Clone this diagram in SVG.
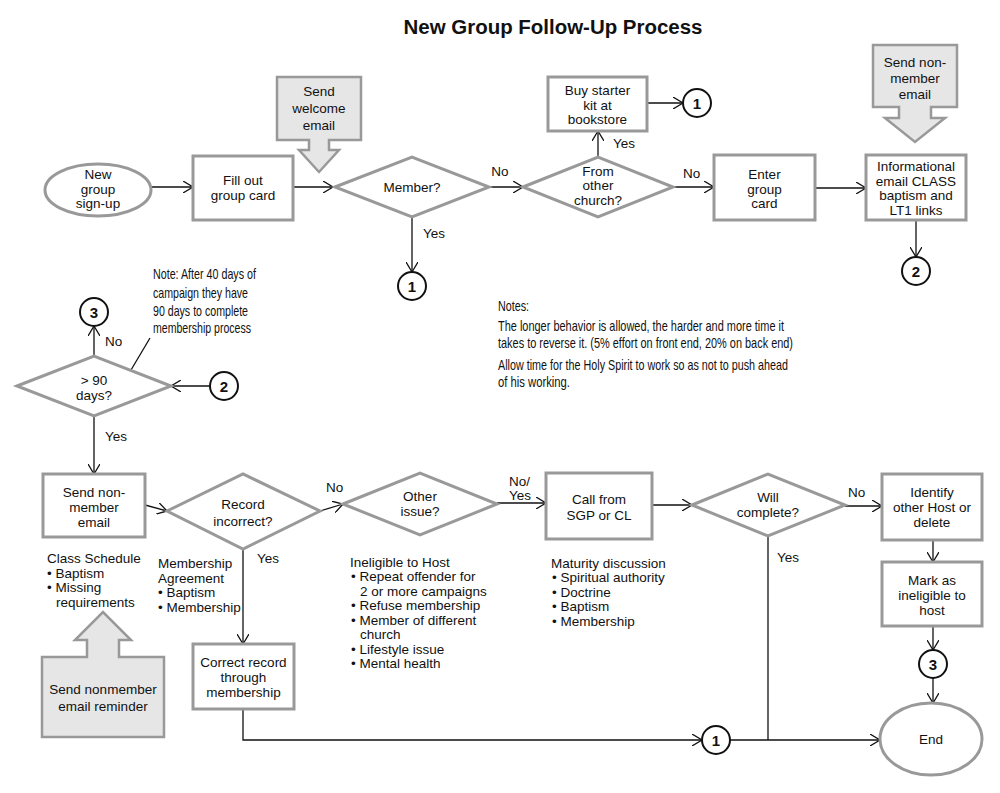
<svg xmlns="http://www.w3.org/2000/svg" width="1000" height="793" viewBox="0 0 1000 793">
<defs>
<style>
text{font-family:"Liberation Sans",Arial,sans-serif;font-size:13.5px;fill:#111}
.c{text-anchor:middle}
.title{font-size:20px;font-weight:bold;text-anchor:middle}
.box{fill:#fff;stroke:#999;stroke-width:3}
.blk{fill:#e6e6e7;stroke:#999;stroke-width:2.5;stroke-linejoin:miter}
.con{fill:#fff;stroke:#111;stroke-width:2}
.num{font-size:15px;font-weight:bold;text-anchor:middle}
.ln{fill:none;stroke:#111;stroke-width:1.3}
.note{font-size:15px}
</style>
<marker id="ah" viewBox="0 0 10 12" refX="10" refY="6" markerWidth="10" markerHeight="12" markerUnits="userSpaceOnUse" orient="auto">
<path d="M0,0 L10,6 L0,12" fill="none" stroke="#111" stroke-width="1.3"/>
</marker>
</defs>
<rect width="1000" height="793" fill="#fff"/>
<text class="title" x="553" y="34" textLength="299" lengthAdjust="spacingAndGlyphs">New Group Follow-Up Process</text>

<g id="connectors">
<line class="ln" x1="152" y1="187" x2="193" y2="187" marker-end="url(#ah)"/>
<line class="ln" x1="293" y1="187" x2="333" y2="187" marker-end="url(#ah)"/>
<line class="ln" x1="489" y1="187" x2="523" y2="187" marker-end="url(#ah)"/>
<line class="ln" x1="412" y1="217" x2="412" y2="272" marker-end="url(#ah)"/>
<line class="ln" x1="598" y1="157" x2="598" y2="131" marker-end="url(#ah)"/>
<line class="ln" x1="647" y1="103" x2="683" y2="103" marker-end="url(#ah)"/>
<line class="ln" x1="673" y1="187" x2="714" y2="187" marker-end="url(#ah)"/>
<line class="ln" x1="815" y1="188" x2="866" y2="188" marker-end="url(#ah)"/>
<line class="ln" x1="916" y1="220" x2="916" y2="257" marker-end="url(#ah)"/>
<line class="ln" x1="94" y1="356" x2="94" y2="326" marker-end="url(#ah)"/>
<line class="ln" x1="210" y1="386" x2="171" y2="386" marker-end="url(#ah)"/>
<line class="ln" x1="150" y1="338" x2="131" y2="370"/>
<line class="ln" x1="94" y1="416" x2="94" y2="474" marker-end="url(#ah)"/>
<line class="ln" x1="145" y1="505" x2="167" y2="511" marker-end="url(#ah)"/>
<line class="ln" x1="320" y1="511" x2="343" y2="504" marker-end="url(#ah)"/>
<line class="ln" x1="497" y1="503" x2="546" y2="503" marker-end="url(#ah)"/>
<line class="ln" x1="652" y1="505" x2="692" y2="505" marker-end="url(#ah)"/>
<line class="ln" x1="845" y1="506" x2="882" y2="506" marker-end="url(#ah)"/>
<line class="ln" x1="933" y1="540" x2="933" y2="562" marker-end="url(#ah)"/>
<line class="ln" x1="933" y1="626" x2="933" y2="650" marker-end="url(#ah)"/>
<line class="ln" x1="933" y1="678" x2="933" y2="703" marker-end="url(#ah)"/>
<line class="ln" x1="243" y1="549" x2="243" y2="644" marker-end="url(#ah)"/>
<polyline class="ln" points="243,709 243,740 702,740" marker-end="url(#ah)"/>
<line class="ln" x1="768" y1="536" x2="768" y2="740"/>
<line class="ln" x1="730" y1="740" x2="880" y2="740" marker-end="url(#ah)"/>
<text x="500" y="176" class="c">No</text>
<text x="423" y="238">Yes</text>
<text x="613" y="148">Yes</text>
<text x="683" y="178">No</text>
<text x="105" y="346">No</text>
<text x="105" y="441">Yes</text>
<text x="326" y="492">No</text>
<text x="257" y="563">Yes</text>
<text x="509" y="486">No/</text>
<text x="509" y="500">Yes</text>
<text x="848" y="497">No</text>
<text x="777" y="562">Yes</text>
</g>

<g id="start">
<ellipse class="box" cx="98" cy="190" rx="53" ry="26"/>
<text class="c" x="98" y="179">New</text>
<text class="c" x="98" y="193.5">group</text>
<text class="c" x="98" y="208">sign-up</text>
</g>
<g id="fill-card">
<rect class="box" x="193" y="156" width="100" height="64"/>
<text class="c" x="243" y="185">Fill out</text>
<text class="c" x="243" y="200">group card</text>
</g>
<g id="welcome-email">
<polygon class="blk" points="277,77 361,77 361,140 329,140 329,150 339,150 319,172 299,150 309,150 309,140 277,140"/>
<text class="c" x="319" y="96">Send</text>
<text class="c" x="319" y="113">welcome</text>
<text class="c" x="319" y="130">email</text>
</g>
<g id="member">
<polygon class="box" points="335,187 412,157 489,187 412,217"/>
<text class="c" x="412" y="192">Member?</text>
</g>
<g id="c1-a">
<circle class="con" cx="412" cy="286" r="14"/>
<text class="num" x="412" y="291.5">1</text>
</g>
<g id="other-church">
<polygon class="box" points="523,187 598,157 673,187 598,217"/>
<text class="c" x="598" y="175.5">From</text>
<text class="c" x="598" y="190">other</text>
<text class="c" x="598" y="204.5">church?</text>
</g>
<g id="starter-kit">
<rect class="box" x="548" y="77" width="99" height="54"/>
<text class="c" x="597.5" y="95">Buy starter</text>
<text class="c" x="597.5" y="109.5">kit at</text>
<text class="c" x="597.5" y="124">bookstore</text>
</g>
<g id="c1-b">
<circle class="con" cx="697" cy="103" r="14"/>
<text class="num" x="697" y="108.5">1</text>
</g>
<g id="enter-card">
<rect class="box" x="714" y="155" width="101" height="65"/>
<text class="c" x="764.5" y="179">Enter</text>
<text class="c" x="764.5" y="193.5">group</text>
<text class="c" x="764.5" y="208">card</text>
</g>
<g id="info-email">
<rect class="box" x="866" y="155" width="100" height="65"/>
<text class="c" x="916" y="171">Informational</text>
<text class="c" x="916" y="185.5">email CLASS</text>
<text class="c" x="916" y="200">baptism and</text>
<text class="c" x="916" y="214.5">LT1 links</text>
</g>
<g id="nonmember-email-top">
<polygon class="blk" points="873,45 957,45 957,107 931,107 931,118 945,118 915,142 885,118 899,118 899,107 873,107"/>
<text class="c" x="915" y="67">Send non-</text>
<text class="c" x="915" y="83">member</text>
<text class="c" x="915" y="99">email</text>
</g>
<g id="c2-a">
<circle class="con" cx="916" cy="271" r="14"/>
<text class="num" x="916" y="276.5">2</text>
</g>
<g id="c3-a">
<circle class="con" cx="94" cy="312" r="14"/>
<text class="num" x="94" y="317.5">3</text>
</g>
<g id="days90">
<polygon class="box" points="17,386 94,356 171,386 94,416"/>
<text class="c" x="94" y="385">&gt; 90</text>
<text class="c" x="94" y="400">days?</text>
</g>
<g id="c2-b">
<circle class="con" cx="224" cy="386" r="14"/>
<text class="num" x="224" y="391.5">2</text>
</g>
<g id="note-40days">
<text class="note" x="153" y="279" textLength="103" lengthAdjust="spacingAndGlyphs">Note: After 40 days of</text>
<text class="note" x="153" y="298" textLength="95" lengthAdjust="spacingAndGlyphs">campaign they have</text>
<text class="note" x="153" y="316" textLength="95" lengthAdjust="spacingAndGlyphs">90 days to complete</text>
<text class="note" x="153" y="333" textLength="98" lengthAdjust="spacingAndGlyphs">membership process</text>
</g>
<g id="notes">
<text class="note" x="498" y="311" textLength="31" lengthAdjust="spacingAndGlyphs">Notes:</text>
<text class="note" x="498" y="331" textLength="286" lengthAdjust="spacingAndGlyphs">The longer behavior is allowed, the harder and more time it</text>
<text class="note" x="498" y="348" textLength="295" lengthAdjust="spacingAndGlyphs">takes to reverse it. (5% effort on front end, 20% on back end)</text>
<text class="note" x="498" y="370" textLength="290" lengthAdjust="spacingAndGlyphs">Allow time for the Holy Spirit to work so as not to push ahead</text>
<text class="note" x="498" y="387" textLength="72" lengthAdjust="spacingAndGlyphs">of his working.</text>
</g>
<g id="nonmember-email">
<rect class="box" x="43" y="474" width="102" height="63"/>
<text class="c" x="94" y="497">Send non-</text>
<text class="c" x="94" y="512">member</text>
<text class="c" x="94" y="526.5">email</text>
</g>
<g id="class-schedule">
<text x="47" y="563">Class Schedule</text>
<text x="47" y="577.5">• Baptism</text>
<text x="47" y="592">• Missing</text>
<text x="56" y="606.5">requirements</text>
</g>
<g id="reminder">
<polygon class="blk" points="42,657 87,657 87,640 75,640 103,612 131,640 119,640 119,657 164,657 164,737 42,737"/>
<text class="c" x="103" y="694">Send nonmember</text>
<text class="c" x="103" y="711">email reminder</text>
</g>
<g id="record-incorrect">
<polygon class="box" points="167,511 243,474 320,511 243,549"/>
<text class="c" x="243" y="509">Record</text>
<text class="c" x="243" y="526">incorrect?</text>
</g>
<g id="membership-agreement">
<text x="158" y="568">Membership</text>
<text x="158" y="582.5">Agreement</text>
<text x="158" y="597">• Baptism</text>
<text x="158" y="611.5">• Membership</text>
</g>
<g id="correct-record">
<rect class="box" x="193" y="644" width="101" height="65"/>
<text class="c" x="243.5" y="667">Correct record</text>
<text class="c" x="243.5" y="682">through</text>
<text class="c" x="243.5" y="696.5">membership</text>
</g>
<g id="other-issue">
<polygon class="box" points="343,504 420,473 497,504 420,535"/>
<text class="c" x="420" y="501">Other</text>
<text class="c" x="420" y="516">issue?</text>
</g>
<g id="ineligible">
<text x="350" y="566.5">Ineligible to Host</text>
<text x="351" y="581">• Repeat offender for</text>
<text x="360" y="595.5">2 or more campaigns</text>
<text x="351" y="610">• Refuse membership</text>
<text x="351" y="624.5">• Member of different</text>
<text x="360" y="639">church</text>
<text x="351" y="653.5">• Lifestyle issue</text>
<text x="351" y="668">• Mental health</text>
</g>
<g id="call">
<rect class="box" x="546" y="473" width="106" height="66"/>
<text class="c" x="599" y="504">Call from</text>
<text class="c" x="599" y="519.5">SGP or CL</text>
</g>
<g id="maturity">
<text x="551" y="567.5">Maturity discussion</text>
<text x="552" y="582">• Spiritual authority</text>
<text x="552" y="596.5">• Doctrine</text>
<text x="552" y="611">• Baptism</text>
<text x="552" y="625.5">• Membership</text>
</g>
<g id="will-complete">
<polygon class="box" points="692,505 768,474 845,505 768,536"/>
<text class="c" x="768" y="502">Will</text>
<text class="c" x="768" y="517">complete?</text>
</g>
<g id="identify">
<rect class="box" x="882" y="474" width="100" height="66"/>
<text class="c" x="932" y="497">Identify</text>
<text class="c" x="932" y="512">other Host or</text>
<text class="c" x="932" y="526.5">delete</text>
</g>
<g id="mark">
<rect class="box" x="882" y="562" width="100" height="64"/>
<text class="c" x="932" y="585">Mark as</text>
<text class="c" x="932" y="600">ineligible to</text>
<text class="c" x="932" y="614.5">host</text>
</g>
<g id="c3-b">
<circle class="con" cx="933" cy="664" r="14"/>
<text class="num" x="933" y="669.5">3</text>
</g>
<g id="c1-c">
<circle class="con" cx="716" cy="740" r="14"/>
<text class="num" x="716" y="745.5">1</text>
</g>
<g id="end">
<ellipse class="box" cx="931" cy="739" rx="51" ry="36"/>
<text class="c" x="931" y="744">End</text>
</g>
</svg>
